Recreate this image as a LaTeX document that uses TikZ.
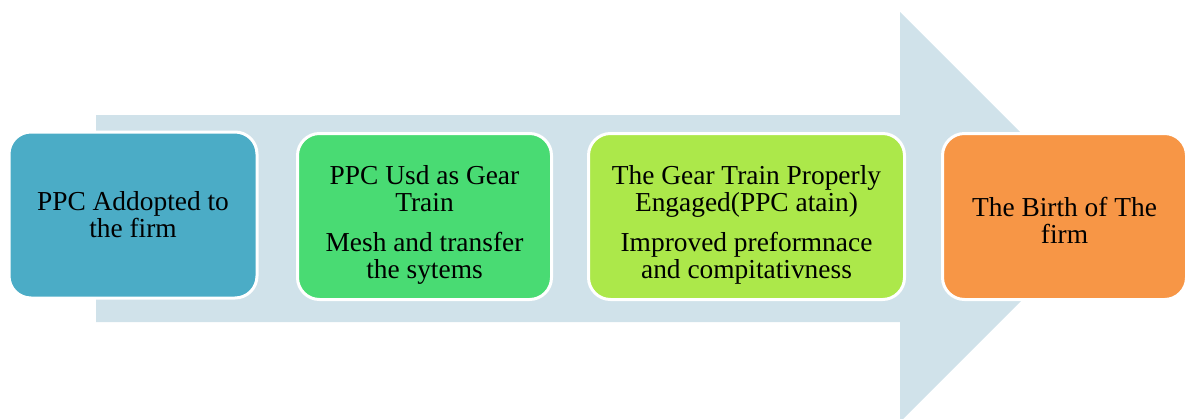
\documentclass[tikz,border=0pt]{standalone}
\usepackage{fontspec}
\setmainfont{Liberation Serif}
\usepackage{tikz}
\usetikzlibrary{shapes}
\definecolor{arrowbg}{RGB}{208,226,234}
\definecolor{stepone}{RGB}{75,172,198}
\definecolor{steptwo}{RGB}{73,219,115}
\definecolor{stepthree}{RGB}{172,232,74}
\definecolor{stepfour}{RGB}{247,150,70}
\tikzstyle{stage}=[rectangle, rounded corners=11pt, draw=white, line width=1.5pt,
                minimum height=83pt, align=center, text=black,
                font=\fontsize{13.7pt}{13.5pt}\selectfont]

\begin{document}
\begin{tikzpicture}[x=0.5pt,y=-0.5pt]
\path[use as bounding box] (0,0) rectangle (1187,418);
% big arrow behind the stages
\fill[arrowbg] (96,115) -- (900,115) -- (900,12) -- (1105,217)
  -- (900,422) -- (900,322) -- (96,322) -- cycle;
\node[stage, fill=stepone, minimum width=124pt] (adopt) at (133,215)
  {PPC Addopted to\\the firm};
\node[stage, fill=steptwo, minimum width=127pt] (gear) at (424.5,216.5)
  {\rule{0pt}{18pt}PPC Usd as Gear\\Train\\[6.5pt]Mesh and transfer\\the sytems};
\node[stage, fill=stepthree, minimum width=158pt] (engage) at (746.5,216.5)
  {\rule{0pt}{18pt}The Gear Train Properly\\Engaged(PPC atain)\\[6.5pt]Improved preformnace\\and compitativness};
\node[stage, fill=stepfour, minimum width=122pt] (birth) at (1064.5,216.5)
  {\rule{0pt}{13pt}The Birth of The\\firm};
\end{tikzpicture}
\end{document}
